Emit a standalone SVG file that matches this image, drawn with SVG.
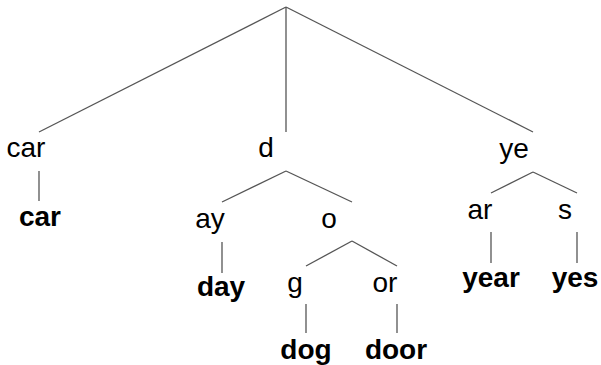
<svg xmlns="http://www.w3.org/2000/svg" width="601" height="365" viewBox="0 0 601 365">
<style>
.e{stroke:#555;stroke-width:1.3;fill:none}
text{font-family:"Liberation Sans",Arial,sans-serif;font-size:28px;fill:#000;text-anchor:middle}
.b{font-weight:bold}
</style>
<rect width="601" height="365" fill="#fff"/>
<g id="connectors">
<line class="e" x1="286" y1="7" x2="39" y2="132"/>
<line class="e" x1="286" y1="7" x2="286" y2="132"/>
<line class="e" x1="286" y1="7" x2="533" y2="132"/>
<line class="e" x1="39" y1="171" x2="39" y2="201"/>
<line class="e" x1="286" y1="171" x2="222" y2="202"/>
<line class="e" x1="286" y1="171" x2="352" y2="202"/>
<line class="e" x1="222" y1="242" x2="222" y2="273"/>
<line class="e" x1="352" y1="241" x2="306" y2="266"/>
<line class="e" x1="352" y1="241" x2="397" y2="266"/>
<line class="e" x1="306" y1="304" x2="306" y2="333"/>
<line class="e" x1="397" y1="304" x2="397" y2="333"/>
<line class="e" x1="533" y1="172" x2="491" y2="193"/>
<line class="e" x1="533" y1="172" x2="577" y2="193"/>
<line class="e" x1="491" y1="232" x2="491" y2="263"/>
<line class="e" x1="577" y1="232" x2="577" y2="263"/>
</g>
<g id="n-car"><text x="26" y="157">car</text></g>
<g id="n-d"><text x="266" y="157">d</text></g>
<g id="n-ye"><text x="514" y="158">ye</text></g>
<g id="w-car"><text class="b" x="40" y="226">car</text></g>
<g id="n-ay"><text x="210" y="228">ay</text></g>
<g id="n-o"><text x="329" y="228">o</text></g>
<g id="n-ar"><text x="480" y="219">ar</text></g>
<g id="n-s"><text x="565" y="219">s</text></g>
<g id="w-day"><text class="b" x="221" y="296">day</text></g>
<g id="n-g"><text x="295" y="292">g</text></g>
<g id="n-or"><text x="385" y="292">or</text></g>
<g id="w-year"><text class="b" x="491" y="287">year</text></g>
<g id="w-yes"><text class="b" x="575" y="287">yes</text></g>
<g id="w-dog"><text class="b" x="306" y="359">dog</text></g>
<g id="w-door"><text class="b" x="396" y="359">door</text></g>
</svg>
